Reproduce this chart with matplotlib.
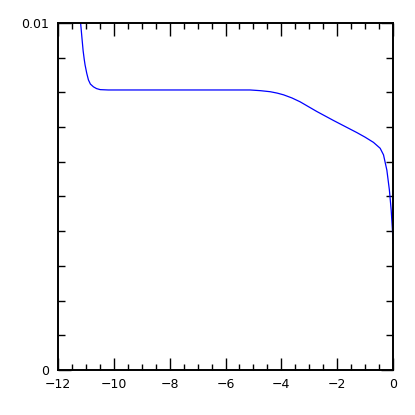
import numpy as np
import matplotlib
matplotlib.use('Agg')
from matplotlib import pyplot as plt
from matplotlib.ticker import MultipleLocator, FixedLocator

'''Curve values read off the reference'''
x_vals = [-11.19, -11.14, -11.10, -11.06, -11.03, -10.97, -10.91, -10.84, -10.73,
          -10.62, -10.49, -10.2, -9.0, -8.0, -7.0, -6.0, -5.5, -5.12, -4.75,
          -4.40, -4.15, -3.92, -3.62, -3.33, -3.03, -2.73, -2.43, -2.13,
          -1.89, -1.53, -1.29, -1.00, -0.70, -0.46, -0.34, -0.22, -0.13,
          -0.065, -0.02, 0.0]
y_vals = [0.0100, 0.00955, 0.0092, 0.00895, 0.00879, 0.00855, 0.00836, 0.00824,
          0.00816, 0.00811, 0.00808, 0.00807, 0.00807, 0.00807, 0.00807, 0.00807,
          0.00807, 0.00807, 0.00805, 0.00802, 0.00798, 0.00793, 0.00784,
          0.00773, 0.00759, 0.00745, 0.00732, 0.00719, 0.00709, 0.00694,
          0.00684, 0.00671, 0.00656, 0.00639, 0.00620, 0.00576, 0.00519,
          0.00461, 0.00403, 0.00365]

x_ticks = [-12, -10, -8, -6, -4, -2, 0]
x_labels = ['\u221212', '\u221210', '\u22128', '\u22126', '\u22124', '\u22122', '0']
y_ticks = [0, 0.01]
y_labels = ['0', '0.01']

plt.rcParams['font.family'] = ['DejaVu Sans']

fig = plt.figure(figsize=(4.15, 4.15), dpi=100)
ax = fig.add_axes([58/415, 45/415, 335/415, 347/415])

ax.plot(x_vals, y_vals, color='#0000ff', lw=0.9)

ax.set_xlim(-12, 0)
ax.set_ylim(0, 0.01)

ax.xaxis.set_major_locator(FixedLocator(x_ticks))
ax.set_xticklabels(x_labels)
ax.xaxis.set_minor_locator(MultipleLocator(0.5))
ax.yaxis.set_major_locator(FixedLocator(y_ticks))
ax.set_yticklabels(y_labels)
ax.yaxis.set_minor_locator(MultipleLocator(0.001))

ax.tick_params(which='both', direction='in', top=True, right=True,
               labelsize=9, width=1.0, color='black')
ax.tick_params(which='major', length=9)
ax.tick_params(axis='x', which='major', pad=5.5)
ax.tick_params(axis='y', which='major', pad=6.5)
ax.tick_params(axis='x', which='minor', length=4.5)
ax.tick_params(axis='y', which='minor', length=5)
for s in ax.spines.values():
    s.set_linewidth(1.4)

plt.savefig('out.png', dpi=100)
